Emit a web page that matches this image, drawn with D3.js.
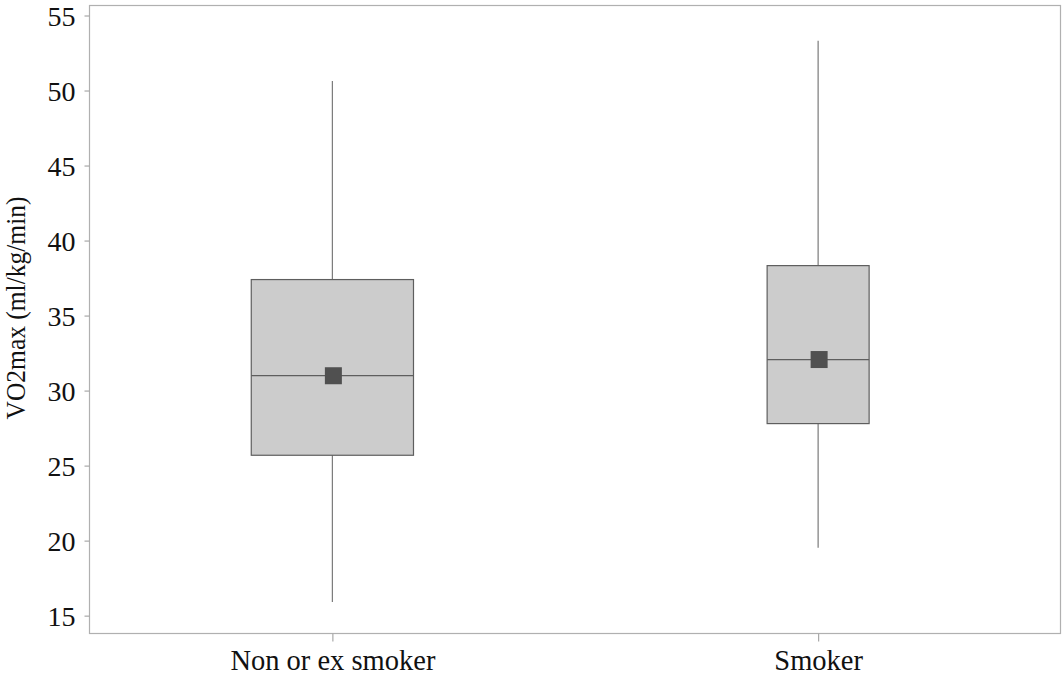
<!DOCTYPE html>
<html>
<head>
<meta charset="utf-8">
<script src="https://cdn.jsdelivr.net/npm/d3@7"></script>
<style>
  html, body { margin: 0; padding: 0; background: #fff; }
  svg { display: block; }
</style>
</head>
<body>
<svg id="chart" width="1062" height="679"></svg>
<script>
// VO2max summary statistics by smoking status
const categories   = ["Non or ex smoker", "Smoker"];
const whiskerLow   = [15.91, 19.53];
const quartile1    = [25.69, 27.80];
const medians      = [31.00, 32.07];
const quartile3    = [37.40, 38.33];
const whiskerHigh  = [50.64, 53.31];
const means        = [30.99, 32.07];
const yTickValues  = [15, 20, 25, 30, 35, 40, 45, 50, 55];
const yAxisTitle   = "VO2max (ml/kg/min)";

// layout
const plot = { left: 89.5, top: 5.5, right: 1061, bottom: 633.5 };
const boxShare = [0.334, 0.21];   // box width as share of the band step
const markerSize = 17;
const SERIF = "'Liberation Serif', 'Times New Roman', Times, serif";

const svg = d3.select("#chart");

const x = d3.scalePoint()
  .domain(categories)
  .range([plot.left, plot.right])
  .padding(0.5);

const y = d3.scaleLinear()
  .domain([13.81, 55.667])
  .range([plot.bottom, plot.top]);

const rows = categories.map((c, i) => ({
  cat: c, lo: whiskerLow[i], q1: quartile1[i], med: medians[i],
  q3: quartile3[i], hi: whiskerHigh[i], mean: means[i], share: boxShare[i]
}));

// frame
svg.append("rect")
  .attr("x", plot.left).attr("y", plot.top)
  .attr("width", plot.right - plot.left - 0.5)
  .attr("height", plot.bottom - plot.top)
  .attr("fill", "none").attr("stroke", "#b0b0b0").attr("stroke-width", 1.2);

// y axis ticks and labels
const yAxis = d3.axisLeft(y).tickValues(yTickValues).tickSize(5).tickPadding(9);
const gy = svg.append("g").attr("transform", `translate(${plot.left},0)`).call(yAxis)
  .attr("font-family", null).attr("font-size", null);
gy.select(".domain").remove();
gy.selectAll(".tick line").attr("stroke", "#a8a8a8").attr("stroke-width", 1.2);
gy.selectAll(".tick text")
  .style("font-family", SERIF).style("font-size", "28px")
  .attr("fill", "#111")
  .attr("dy", "0.35em");

// x axis ticks and labels
const xAxis = d3.axisBottom(x).tickSize(8).tickPadding(10);
const gx = svg.append("g").attr("transform", `translate(0,${plot.bottom})`).call(xAxis)
  .attr("font-family", null).attr("font-size", null);
gx.select(".domain").remove();
gx.selectAll(".tick line").attr("stroke", "#a8a8a8").attr("stroke-width", 1.2);
gx.selectAll(".tick text")
  .style("font-family", SERIF).style("font-size", "28.5px")
  .attr("fill", "#111")
  .attr("y", 36).attr("dy", null);

// y axis title
svg.append("text")
  .attr("transform", "translate(25,308) rotate(-90) scale(1,1.08)")
  .attr("text-anchor", "middle")
  .style("font-family", SERIF).style("font-size", "25.5px")
  .attr("fill", "#111")
  .text(yAxisTitle);

const step = x.step();
const g = svg.append("g");

// whiskers
g.selectAll("line.whisker")
  .data(rows).join("line")
  .attr("class", "whisker")
  .attr("x1", d => x(d.cat)).attr("x2", d => x(d.cat))
  .attr("y1", d => y(d.lo)).attr("y2", d => y(d.hi))
  .attr("stroke", "#7a7a7a").attr("stroke-width", 1.2);

// boxes
g.selectAll("rect.box")
  .data(rows).join("rect")
  .attr("class", "box")
  .attr("x", d => x(d.cat) - d.share * step / 2)
  .attr("width", d => d.share * step)
  .attr("y", d => y(d.q3))
  .attr("height", d => y(d.q1) - y(d.q3))
  .attr("fill", "#cccccc").attr("stroke", "#5e5e5e").attr("stroke-width", 1.2);

// medians
g.selectAll("line.median")
  .data(rows).join("line")
  .attr("class", "median")
  .attr("x1", d => x(d.cat) - d.share * step / 2)
  .attr("x2", d => x(d.cat) + d.share * step / 2)
  .attr("y1", d => y(d.med)).attr("y2", d => y(d.med))
  .attr("stroke", "#5e5e5e").attr("stroke-width", 1.2);

// mean markers
g.selectAll("rect.mean")
  .data(rows).join("rect")
  .attr("class", "mean")
  .attr("x", d => x(d.cat) - markerSize / 2 + 1)
  .attr("y", d => y(d.mean) - markerSize / 2)
  .attr("width", markerSize).attr("height", markerSize)
  .attr("fill", "#505050");
</script>
</body>
</html>
